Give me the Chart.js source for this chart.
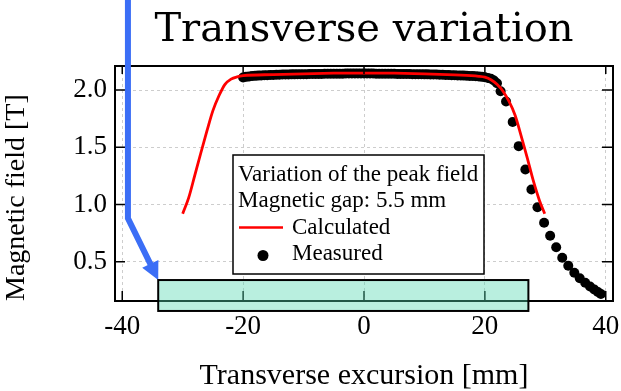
<!DOCTYPE html>
<html>
<head>
<meta charset="utf-8">
<script src="https://cdn.jsdelivr.net/npm/chart.js@4.4.0/dist/chart.umd.min.js"></script>
<style>
  html, body { margin: 0; padding: 0; background: #fff; }
</style>
</head>
<body>
<canvas id="chart" width="621" height="391"></canvas>
<script>
// calculated peak field (red curve)
const calcX = [-30, -29, -28, -27, -26, -25, -24, -23, -22, -21, -20, -15, -10, -5, 0, 5, 10, 15, 19, 20, 21, 22, 23, 24, 25, 26, 27, 28, 29, 29.9];
const calcY = [0.92, 1.06, 1.255, 1.45, 1.64, 1.82, 1.95, 2.05, 2.095, 2.115, 2.125, 2.135, 2.142, 2.147, 2.148, 2.147, 2.142, 2.132, 2.12, 2.112, 2.09, 2.05, 1.99, 1.90, 1.78, 1.60, 1.41, 1.21, 1.04, 0.92];

// measured peak field (black dots)
const measX = [-20, -19.5, -19, -18.5, -18, -17.5, -17, -16.5, -16, -15.5, -15, -14.5, -14, -13.5, -13, -12.5, -12, -11.5, -11, -10.5,
  -10, -9.5, -9, -8.5, -8, -7.5, -7, -6.5, -6, -5.5, -5, -4.5, -4, -3.5, -3, -2.5, -2, -1.5, -1, -0.5,
  0, 0.5, 1, 1.5, 2, 2.5, 3, 3.5, 4, 4.5, 5, 5.5, 6, 6.5, 7, 7.5, 8, 8.5, 9, 9.5,
  10, 10.5, 11, 11.5, 12, 12.5, 13, 13.5, 14, 14.5, 15, 15.5, 16, 16.5, 17, 17.5, 18, 18.5, 19, 19.5,
  20, 20.5, 21, 21.5, 22, 22.6, 23.5, 24.6, 25.6, 26.7, 27.7, 28.7, 29.8, 30.8, 31.8, 32.8, 33.8, 34.8, 35.7, 36.6,
  37.4, 38.1, 38.7, 39.2];
const measY = [2.110, 2.115, 2.119, 2.122, 2.124, 2.126, 2.128, 2.129, 2.130, 2.131, 2.132, 2.133, 2.134, 2.135, 2.135, 2.136, 2.137, 2.137, 2.138, 2.138,
  2.139, 2.139, 2.140, 2.140, 2.141, 2.141, 2.141, 2.142, 2.142, 2.142, 2.143, 2.143, 2.143, 2.143, 2.144, 2.144, 2.144, 2.144, 2.144, 2.144,
  2.144, 2.144, 2.144, 2.144, 2.143, 2.143, 2.143, 2.143, 2.142, 2.142, 2.142, 2.141, 2.141, 2.141, 2.140, 2.140, 2.139, 2.139, 2.138, 2.138,
  2.137, 2.137, 2.136, 2.135, 2.135, 2.134, 2.133, 2.132, 2.131, 2.130, 2.129, 2.128, 2.127, 2.126, 2.125, 2.123, 2.122, 2.120, 2.118, 2.115,
  2.112, 2.106, 2.098, 2.084, 2.060, 1.990, 1.900, 1.720, 1.510, 1.306, 1.131, 0.976, 0.841, 0.727, 0.626, 0.535, 0.465, 0.404, 0.356, 0.316,
  0.284, 0.258, 0.236, 0.218];

const xTicks = [-40, -20, 0, 20, 40];
const yTicks = [0.5, 1.0, 1.5, 2.0];
const legendHeader = ['Variation of the peak field', 'Magnetic gap: 5.5 mm'];

// shaded band and blue arrow, in data units
const bandX = [-34.05, 27.2];
const bandY = [0.07, 0.34];
const arrowX = [-39.06, -39.06, -34.05];
const arrowY = [2.79, 0.88, 0.34];

const SERIF = '"Liberation Serif", "Times New Roman", serif';

const decorations = {
  id: 'decorations',
  afterDraw(chart) {
    const { ctx, chartArea: a, scales: { x, y } } = chart;
    ctx.save();

    // tick marks pointing into the plot
    ctx.strokeStyle = '#000';
    ctx.lineWidth = 1.5;
    ctx.beginPath();
    xTicks.forEach(v => {
      const px = x.getPixelForValue(v);
      ctx.moveTo(px, a.bottom); ctx.lineTo(px, a.bottom - 10);
      ctx.moveTo(px, a.top); ctx.lineTo(px, a.top + 8);
    });
    yTicks.forEach(v => {
      const py = y.getPixelForValue(v);
      ctx.moveTo(a.left, py); ctx.lineTo(a.left + 10, py);
      ctx.moveTo(a.right, py); ctx.lineTo(a.right - 11, py);
    });
    ctx.stroke();

    // frame
    ctx.lineWidth = 2;
    ctx.strokeRect(a.left, a.top, a.right - a.left, a.bottom - a.top);

    // legend box
    const lx = 233, ly = 155, lw = 251, lh = 119;
    ctx.fillStyle = '#fff';
    ctx.fillRect(lx, ly, lw, lh);
    ctx.lineWidth = 1.5;
    ctx.strokeRect(lx, ly, lw, lh);
    ctx.fillStyle = '#000';
    ctx.font = '23px ' + SERIF;
    ctx.textAlign = 'left';
    ctx.textBaseline = 'alphabetic';
    ctx.fillText(legendHeader[0], lx + 5, ly + 26);
    ctx.fillText(legendHeader[1], lx + 5, ly + 52);
    ctx.fillText(chart.data.datasets[0].label, lx + 59, ly + 79);
    ctx.fillText(chart.data.datasets[1].label, lx + 59, ly + 105);
    ctx.strokeStyle = '#ff0000';
    ctx.lineWidth = 2.5;
    ctx.beginPath();
    ctx.moveTo(lx + 6, ly + 72.5); ctx.lineTo(lx + 50, ly + 72.5);
    ctx.stroke();
    ctx.fillStyle = '#000';
    ctx.beginPath();
    ctx.arc(lx + 30, ly + 100.5, 5.5, 0, Math.PI * 2);
    ctx.fill();

    // blue arrow
    const pts = arrowX.map((v, i) => [x.getPixelForValue(v), y.getPixelForValue(arrowY[i])]);
    const [tx, ty] = pts[2];
    const ang = Math.atan2(ty - pts[1][1], tx - pts[1][0]);
    const headLen = 18, headHalf = 9;
    const bx = tx - headLen * Math.cos(ang), by = ty - headLen * Math.sin(ang);
    ctx.strokeStyle = '#3b6ef6';
    ctx.fillStyle = '#3b6ef6';
    ctx.lineWidth = 6;
    ctx.lineJoin = 'miter';
    ctx.beginPath();
    ctx.moveTo(pts[0][0], pts[0][1]);
    ctx.lineTo(pts[1][0], pts[1][1]);
    ctx.lineTo(bx + 2 * Math.cos(ang), by + 2 * Math.sin(ang));
    ctx.stroke();
    ctx.beginPath();
    ctx.moveTo(tx, ty);
    ctx.lineTo(bx + headHalf * Math.sin(ang), by - headHalf * Math.cos(ang));
    ctx.lineTo(bx - headHalf * Math.sin(ang), by + headHalf * Math.cos(ang));
    ctx.closePath();
    ctx.fill();

    // shaded band
    const rx0 = x.getPixelForValue(bandX[0]), rx1 = x.getPixelForValue(bandX[1]);
    const ry0 = y.getPixelForValue(bandY[1]), ry1 = y.getPixelForValue(bandY[0]);
    ctx.fillStyle = 'rgba(80, 215, 175, 0.4)';
    ctx.fillRect(rx0, ry0, rx1 - rx0, ry1 - ry0);
    ctx.strokeStyle = '#000';
    ctx.lineWidth = 2;
    ctx.strokeRect(rx0, ry0, rx1 - rx0, ry1 - ry0);

    ctx.restore();
  }
};

new Chart(document.getElementById('chart'), {
  type: 'scatter',
  data: {
    datasets: [
      {
        label: 'Calculated',
        data: calcX.map((v, i) => ({ x: v, y: calcY[i] })),
        showLine: true,
        borderColor: '#ff0000',
        borderWidth: 2.8,
        pointRadius: 0,
        cubicInterpolationMode: 'monotone'
      },
      {
        label: 'Measured',
        data: measX.map((v, i) => ({ x: v, y: measY[i] })),
        showLine: false,
        pointRadius: 5,
        pointBorderWidth: 0,
        backgroundColor: '#000'
      }
    ]
  },
  options: {
    responsive: false,
    animation: false,
    layout: { padding: { top: 0, right: 8, bottom: 0, left: 0 } },
    plugins: {
      legend: { display: false },
      tooltip: { enabled: false },
      title: {
        display: true,
        text: 'Transverse variation',
        fullSize: false,
        color: '#000',
        font: { family: '"DejaVu Serif", serif', size: 40, weight: 'normal', lineHeight: 1.2 },
        padding: { top: 7, bottom: 11 }
      }
    },
    scales: {
      x: {
        type: 'linear',
        min: -41.2,
        max: 41.2,
        afterBuildTicks: s => { s.ticks = xTicks.map(v => ({ value: v })); },
        afterFit: s => { s.height = 90; s.paddingLeft = 0; s.paddingRight = 0; },
        grid: { color: '#cdcdcd', lineWidth: 1, drawTicks: false },
        border: { display: false, dash: [3, 3] },
        ticks: {
          color: '#000',
          padding: 10,
          maxRotation: 0,
          autoSkip: false,
          font: { family: SERIF, size: 27 },
          callback: v => String(v)
        },
        title: {
          display: true,
          text: 'Transverse excursion [mm]',
          color: '#000',
          font: { family: SERIF, size: 30, lineHeight: 1.0 },
          padding: 0
        }
      },
      y: {
        type: 'linear',
        min: 0.157,
        max: 2.21,
        afterBuildTicks: s => { s.ticks = yTicks.map(v => ({ value: v })); },
        afterFit: s => { s.width = 115; s.paddingTop = 0; s.paddingBottom = 0; },
        grid: { color: '#cdcdcd', lineWidth: 1, drawTicks: false },
        border: { display: false, dash: [3, 3] },
        ticks: {
          color: '#000',
          padding: 8,
          autoSkip: false,
          font: { family: SERIF, size: 27 },
          callback: v => v.toFixed(1)
        },
        title: {
          display: true,
          text: 'Magnetic field [T]',
          align: 'start',
          color: '#000',
          font: { family: SERIF, size: 28, lineHeight: 1.2 },
          padding: 0
        }
      }
    }
  },
  plugins: [decorations]
});
</script>
</body>
</html>
